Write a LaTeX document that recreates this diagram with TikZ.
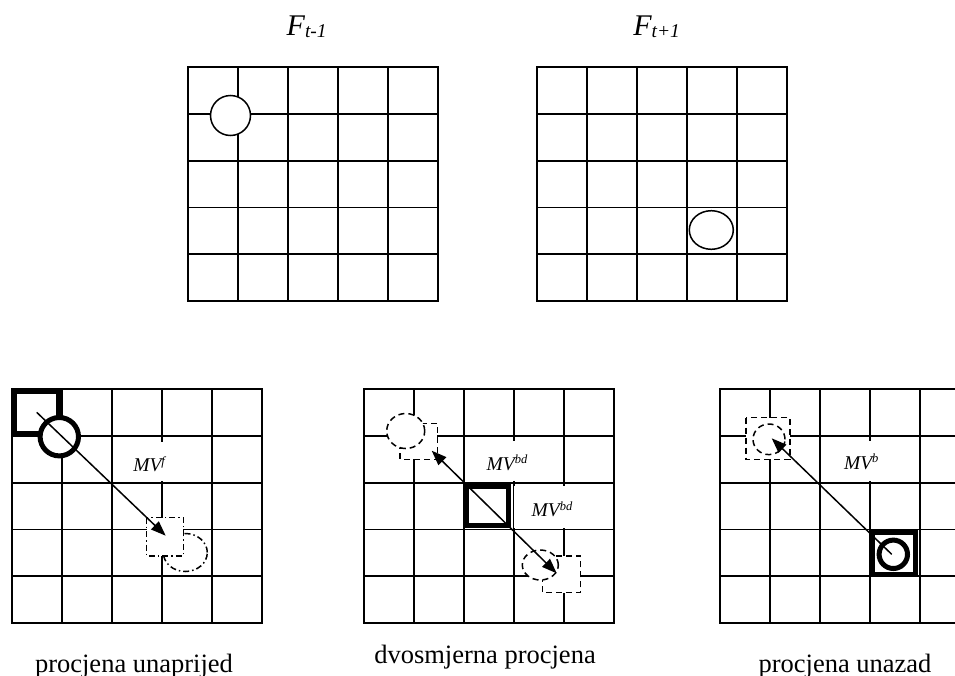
\documentclass[tikz,border=0pt]{standalone}
\usepackage{fontspec}
\setmainfont{Liberation Serif}
\usetikzlibrary{arrows.meta}
\tikzset{
  gridline/.style={line width=1.8pt, line cap=rect},
  plainshape/.style={line width=1.5pt, fill=white},
  boldshape/.style={line width=5pt, fill=white},
  dashshape/.style={line width=1.5pt, fill=white, dash pattern=on 6pt off 4pt},
  dashdotshape/.style={line width=1.5pt, fill=white, dash pattern=on 6pt off 3pt on 1.5pt off 3pt},
  mvarrow/.style={line width=1.5pt, -{Triangle[length=15pt,width=11pt]}},
  mvdarrow/.style={line width=1.5pt, {Triangle[length=15pt,width=11pt]}-{Triangle[length=15pt,width=11pt]}},
  labbox/.style={fill=white},
  txt/.style={inner sep=0pt, outer sep=0pt}
}
\newcommand{\mygrid}[2]{%
  \foreach \i in {0,...,5}{%
    \draw[gridline] ({#1+50*\i},{#2}) -- ({#1+50*\i},{#2+234});
    \draw[gridline] ({#1},{#2+46.8*\i}) -- ({#1+250},{#2+46.8*\i});
  }}
\newcommand{\mvlab}[1]{{\fontsize{19.5}{23}\selectfont\itshape MV\raisebox{6.5pt}{\fontsize{12.5}{15}\selectfont #1}}}
\newcommand{\ftitle}[1]{{\fontsize{30}{36}\selectfont\itshape F\raisebox{-2pt}{\fontsize{19.5}{23}\selectfont #1}}}
\begin{document}
\begin{tikzpicture}[x=1pt,y=-1pt]
\useasboundingbox (0,0) rectangle (955,675);
\clip (0,0) rectangle (955,675);
\fill[white] (0,0) rectangle (955,675);

% ---------- top frames ----------
\node[txt, anchor=base west] (tl) at (286.7,35) {\ftitle{t-1}};
\node[txt, anchor=base west] (tr) at (633.3,35) {\ftitle{t+1}};
\mygrid{188}{67}
\mygrid{537}{67}
\draw[plainshape] (230.5,115.5) circle [radius=20pt];
\draw[plainshape] (711.3,230) ellipse [x radius=22pt, y radius=19.3pt];

% ---------- bottom left: forward ----------
\mygrid{12}{389}
\fill[labbox] (114,442) rectangle (207,481);
\node[txt, anchor=base west] (mvf) at (133.3,471.7) {\mvlab{f}};
\draw[boldshape] (14.5,391.5) rectangle (58.5,433.5);
\draw[boldshape] (59.3,436.7) circle [radius=19.2pt];
\draw[dashdotshape] (185.3,552.5) ellipse [x radius=22pt, y radius=19pt];
\draw[dashdotshape] (146.7,517.7) rectangle (183.3,556);
\coordinate (fs) at (36.7,412.3);
\coordinate (fe) at (165.7,535.7);
\draw[mvarrow] (fs) -- (fe);
\node[txt, anchor=base] (lf) at (134,672) {\fontsize{26.5}{32}\selectfont procjena unaprijed};

% ---------- bottom middle: bidirectional ----------
\mygrid{364}{389}
\fill[labbox] (466,441) rectangle (560,481);
\fill[labbox] (514,486) rectangle (610,528);
\node[txt, anchor=base west] (mvbd1) at (486.7,470) {\mvlab{bd}};
\node[txt, anchor=base west] (mvbd2) at (531.7,516.7) {\mvlab{bd}};
\draw[boldshape] (466.5,486.5) rectangle (508.5,525.5);
\draw[dashshape] (400,423.3) rectangle (437.3,459.3);
\draw[dashshape] (405.7,431) ellipse [x radius=19pt, y radius=17.5pt];
\draw[dashshape] (542.7,556) rectangle (580.7,592.7);
\draw[dashshape] (540.3,565) ellipse [x radius=18pt, y radius=15pt];
\coordinate (bs) at (431.7,450.7);
\coordinate (be) at (556.7,573.3);
\draw[mvdarrow] (bs) -- (be);
\node[txt, anchor=base] (lb) at (485,663.3) {\fontsize{26.5}{32}\selectfont dvosmjerna procjena};

% ---------- bottom right: backward ----------
\mygrid{720}{389}
\fill[labbox] (822,441) rectangle (914,481);
\node[txt, anchor=base west] (mvb) at (844,469.3) {\mvlab{b}};
\draw[dashshape] (746,417.7) rectangle (790,459.3);
\draw[dashshape] (769,439.3) ellipse [x radius=16pt, y radius=15.3pt];
\draw[boldshape] (872.5,532.5) rectangle (915.2,574.2);
\draw[boldshape] (893.3,554.3) circle [radius=14.2pt];
\coordinate (ks) at (891.7,554.3);
\coordinate (ke) at (771.7,438.3);
\draw[mvarrow] (ks) -- (ke);
\node[txt, anchor=base] (lk) at (845,672.7) {\fontsize{26.5}{32}\selectfont procjena unazad};
\end{tikzpicture}
\end{document}
